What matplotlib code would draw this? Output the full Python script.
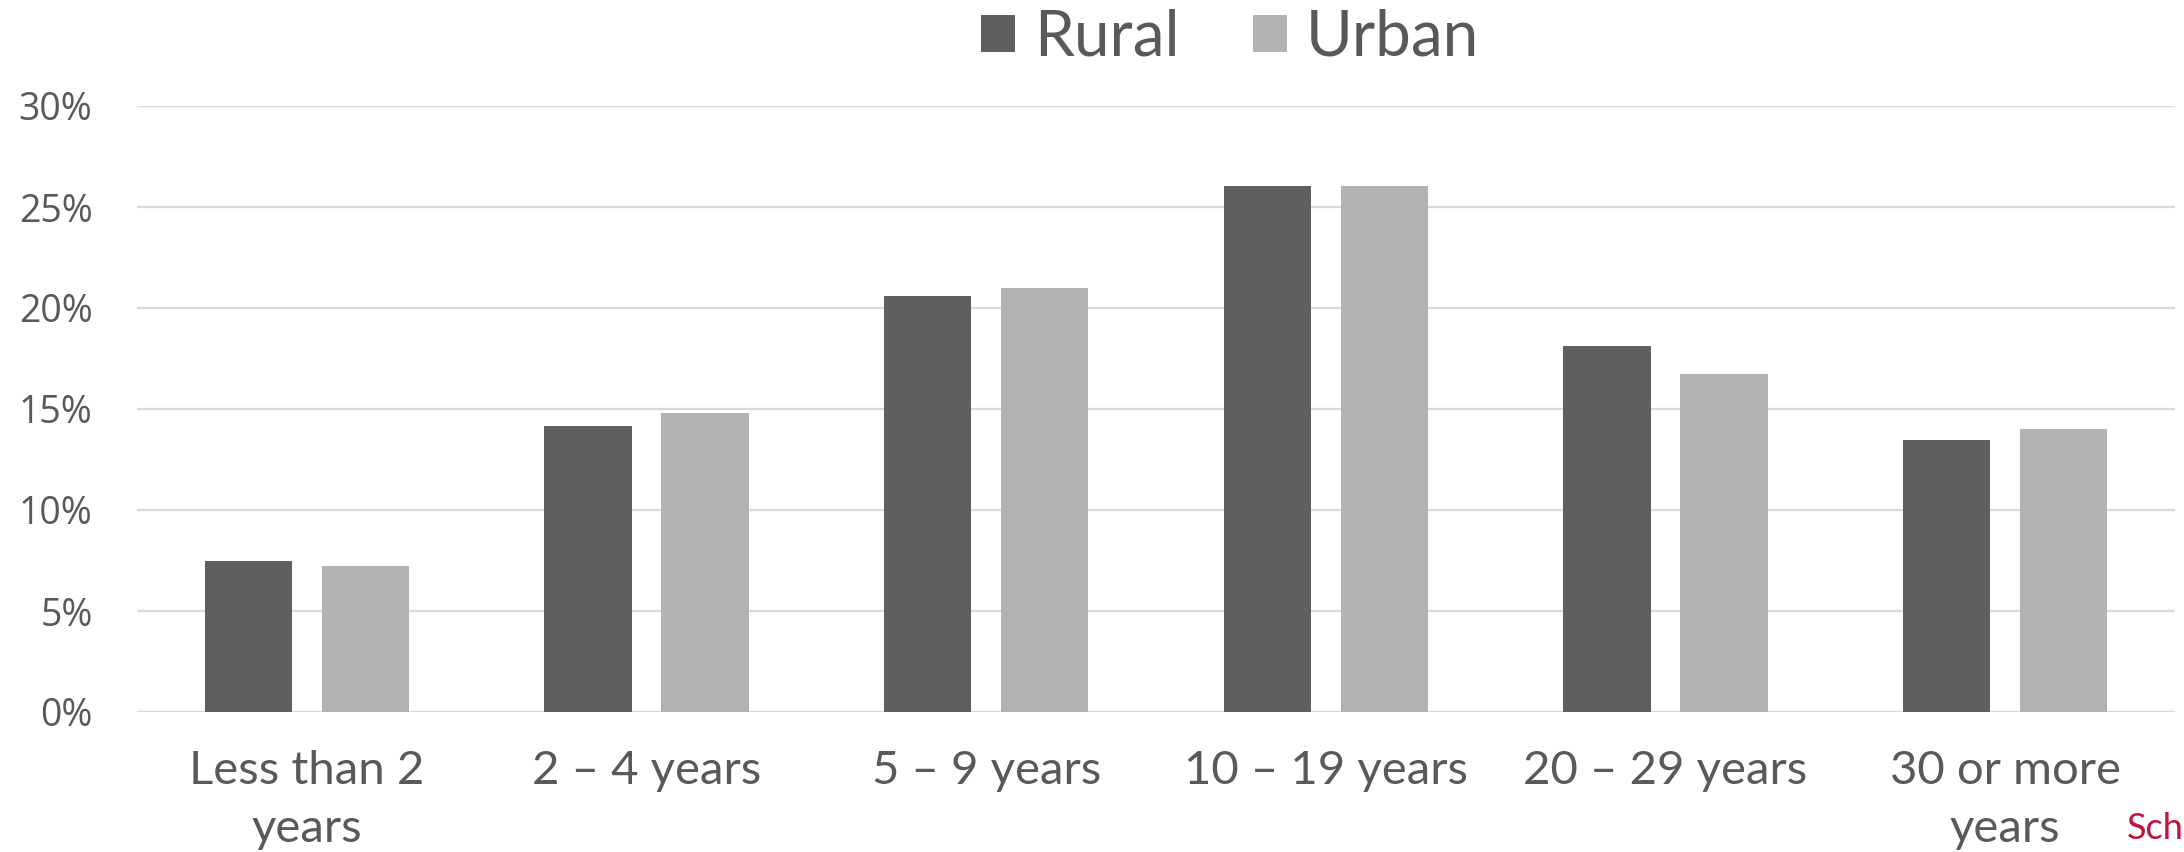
import numpy as np
import matplotlib
matplotlib.use("Agg")
import matplotlib.pyplot as plt
from matplotlib.ticker import FuncFormatter

categories = ["Less than 2\nyears", "2 – 4 years", "5 – 9 years",
              "10 – 19 years", "20 – 29 years", "30 or more\nyears"]
rural = [7.5, 14.15, 20.6, 26.05, 18.1, 13.45]
urban = [7.25, 14.8, 21.0, 26.05, 16.75, 14.0]
yticks = [0, 5, 10, 15, 20, 25, 30]

plt.rcParams['font.family'] = ['Lato', 'DejaVu Sans']
text_col = "#595959"

fig = plt.figure(figsize=(21.84, 8.52), dpi=100)
ax = fig.add_axes([137 / 2184, 140 / 852, (2175 - 137) / 2184, (746 - 140) / 852])

x = np.arange(len(categories))
w = 0.257
ax.bar(x - 0.172, rural, w, color="#5f5f5f", label="Rural", zorder=3)
ax.bar(x + 0.172, urban, w, color="#b2b2b2", label="Urban", zorder=3)

ax.set_xlim(-0.5, len(categories) - 0.5)
ax.set_ylim(0, 30)
ax.set_yticks(yticks)
ax.yaxis.set_major_formatter(FuncFormatter(lambda v, p: f"{v:.0f}%"))
ax.grid(axis="y", color="#d9d9d9", linewidth=1.6, zorder=0)
for s in ax.spines.values():
    s.set_visible(False)

ax.set_xticks(x)
ax.set_xticklabels(categories, linespacing=1.48)
ax.tick_params(axis="x", length=0, pad=27, labelsize=34, labelcolor=text_col)
ax.tick_params(axis="y", length=0, pad=32, labelsize=27, labelcolor=text_col)
for lab in ax.get_yticklabels():
    lab.set_fontfamily(['Open Sans', 'DejaVu Sans'])

leg = fig.legend(loc="center", bbox_to_anchor=(1230 / 2184, 1 - 38 / 852), ncol=2,
                 frameon=False, fontsize=46, handlelength=0.53, handleheight=0.53,
                 handletextpad=0.3, columnspacing=1.15, borderpad=0)
for t in leg.get_texts():
    t.set_color(text_col)

# source note at the bottom right (cut short at the edge in the original)
fig.text(2127 / 2184, 1 - 839 / 852, "Sch", color="#c0143c", fontsize=26,
         ha="left", va="baseline")

fig.savefig("out.png", dpi=100)
